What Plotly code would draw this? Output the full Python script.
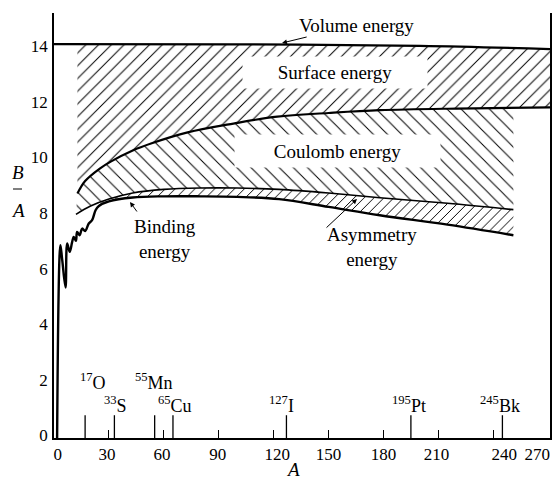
import numpy as np
import plotly.graph_objects as go

# ---------------- data ----------------
volume_A = [0, 100, 200, 271]
volume_BA = [14.08, 14.07, 14.02, 13.90]

surface_A = [12.8, 17, 25, 31, 43, 53, 73, 98, 122, 150, 178, 220, 271]
surface_BA = [8.70, 9.15, 9.60, 9.85, 10.25, 10.50, 10.90, 11.22, 11.47, 11.60, 11.70, 11.76, 11.80]

coulomb_A = [12, 20, 30, 43, 60, 80, 100, 123, 150, 178, 215, 251]
coulomb_BA = [7.95, 8.25, 8.50, 8.72, 8.85, 8.90, 8.90, 8.85, 8.72, 8.55, 8.35, 8.12]

binding_A = [1.7, 3.5, 4.5, 6.3, 7.2, 8.6, 9.9, 10.8, 12, 12.6, 14, 15.4, 17, 19, 20.8,
             22.7, 24.5, 30, 43, 60, 80, 100, 123, 150, 178, 215, 251]
binding_BA = [-0.1, 6.84, 6.3, 5.32, 6.9, 6.6, 6.95, 7.14, 7.0, 7.32, 7.2, 7.44, 7.35, 7.62, 7.74,
              8.1, 8.25, 8.42, 8.56, 8.60, 8.60, 8.58, 8.50, 8.22, 7.92, 7.58, 7.20]

nuclide_A = [17, 33, 55, 65, 127, 195, 245]
nuclide_labels = ["<sup>17</sup>O", "<sup>33</sup>S", "<sup>55</sup>Mn", "<sup>65</sup>Cu",
                  "<sup>127</sup>I", "<sup>195</sup>Pt", "<sup>245</sup>Bk"]
nuclide_label_row = [2, 1, 2, 1, 1, 1, 1]
nuclide_label_shift = [8, 1, -1, 2, -5, -2, -2]

x_minor_ticks = [30, 60, 90, 120, 150, 180, 210, 240]
x_tick_pos = [2, 29, 59, 89.5, 122, 150, 180, 209, 246, 264]
x_tick_text = ["0", "30", "60", "90", "120", "150", "180", "210", "240", "270"]
y_ticks = [0, 2, 4, 6, 8, 10, 12, 14]

Y_FLOOR = -0.1
Y_TOP = 15.2
X_MAX = 271
FONT = "Liberation Serif, Times New Roman, serif"

# page body has an 8px margin: figure coords = reference px - OFF
OFF = 8
W, H = 552, 473
L, R, T, B = 46, 10, 5, 43
PW, PH = W - L - R, H - T - B


def px_to_A(px):
    return (px - OFF - L) / PW * X_MAX


def py_to_v(py):
    return Y_TOP - (py - OFF - T) / PH * (Y_TOP - Y_FLOOR)


def px_to_paper(px):
    return (px - OFF - L) / PW


def py_to_paper(py):
    return 1 - (py - OFF - T) / PH


fig = go.Figure()


def seg(lo, hi, A, V):
    A = np.asarray(A, float); V = np.asarray(V, float)
    m = (A > lo) & (A < hi)
    xs = np.concatenate([[lo], A[m], [hi]])
    ys = np.concatenate([[np.interp(lo, A, V)], V[m], [np.interp(hi, A, V)]])
    return xs, ys


def hatch(xs, ys, shape, size, sol):
    fig.add_trace(go.Scatter(x=xs, y=ys, fill="toself", mode="none",
                             fillcolor="rgba(0,0,0,0)",
                             fillpattern=dict(shape=shape, size=size, solidity=sol,
                                              fgcolor="black", fgopacity=1),
                             hoverinfo="skip", showlegend=False))


# surface-energy hatch (between volume line and surface curve)
vx, vy = seg(surface_A[0], X_MAX, volume_A, volume_BA)
sx, sy = seg(surface_A[0], X_MAX, surface_A, surface_BA)
hatch(list(vx) + list(sx[::-1]), list(vy) + list(sy[::-1]), "/", 9, 0.11)

# coulomb-energy hatch (between surface curve and coulomb curve)
sx2, sy2 = seg(surface_A[0], coulomb_A[-1], surface_A, surface_BA)
cx, cy = seg(coulomb_A[0], coulomb_A[-1], coulomb_A, coulomb_BA)
hatch(list(sx2) + list(cx[::-1]), list(sy2) + list(cy[::-1]), "\\", 10, 0.10)

# asymmetry-energy hatch (between coulomb curve and binding curve)
cx2, cy2 = seg(24.5, coulomb_A[-1], coulomb_A, coulomb_BA)
bx2, by2 = seg(24.5, coulomb_A[-1], binding_A, binding_BA)
hatch(list(cx2) + list(bx2[::-1]), list(cy2) + list(by2[::-1]), "/", 7, 0.14)

# curves
for A, V, w in [(volume_A, volume_BA, 2.2), (surface_A, surface_BA, 2.2),
                (coulomb_A, coulomb_BA, 1.6), (binding_A, binding_BA, 2.4)]:
    fig.add_trace(go.Scatter(x=A, y=V, mode="lines", line=dict(color="black", width=w),
                             line_shape="spline", hoverinfo="skip", showlegend=False))

# nuclide marker lines
mx, my = [], []
for a in nuclide_A:
    mx += [a, a, None]
    my += [Y_FLOOR, 0.72, None]
fig.add_trace(go.Scatter(x=mx, y=my, mode="lines", line=dict(color="black", width=1.3),
                         hoverinfo="skip", showlegend=False))

ann = []
label_y = {2: py_to_v(381), 1: py_to_v(404)}
for a, t, r, sh in zip(nuclide_A, nuclide_labels, nuclide_label_row, nuclide_label_shift):
    ann.append(dict(x=a, y=label_y[r], text=t, showarrow=False, xshift=sh,
                    xanchor="center", yanchor="middle",
                    font=dict(size=18, family=FONT, color="black")))

tf = dict(size=19, family=FONT, color="black")
arrow = dict(showarrow=True, arrowhead=2, arrowsize=1, arrowwidth=1, arrowcolor="black")
ctr = dict(xanchor="center", yanchor="middle")
ann += [
    dict(x=px_to_A(282), y=py_to_v(43), text="Volume energy", ax=74, ay=-18, font=tf, **arrow),
    dict(x=px_to_A(335), y=py_to_v(72.5), text="Surface energy", showarrow=False,
         bgcolor="white", width=184, height=31, borderpad=0, font=tf, **ctr),
    dict(x=px_to_A(337), y=py_to_v(151), text="Coulomb energy", showarrow=False,
         bgcolor="white", width=205, height=32, borderpad=0, font=tf, **ctr),
    dict(x=px_to_A(165), y=py_to_v(239), text="Binding<br>energy", showarrow=False,
         font=tf, **ctr),
    dict(x=px_to_A(372), y=py_to_v(247), text="Asymmetry<br>energy", showarrow=False,
         font=tf, **ctr),
    dict(x=px_to_A(130), y=py_to_v(202), text="", ax=8, ay=11, **arrow),
    dict(x=px_to_A(357), y=py_to_v(199), text="", ax=-32, ay=30, **arrow),
    # axis titles
    dict(xref="paper", yref="paper", x=px_to_paper(293), y=py_to_paper(469),
         text="<i>A</i>", showarrow=False, font=tf, **ctr),
    dict(xref="paper", yref="paper", x=px_to_paper(18), y=py_to_paper(172),
         text="<i>B</i>", showarrow=False, font=tf, **ctr),
    dict(xref="paper", yref="paper", x=px_to_paper(18), y=py_to_paper(210),
         text="<i>A</i>", showarrow=False, font=tf, **ctr),
]

fig.update_layout(
    width=W, height=H,
    margin=dict(l=L, r=R, t=T, b=B, autoexpand=False),
    paper_bgcolor="white", plot_bgcolor="white",
    annotations=ann,
    shapes=[dict(type="line", xref="paper", yref="paper", x0=px_to_paper(13),
                 x1=px_to_paper(22), y0=py_to_paper(189), y1=py_to_paper(189),
                 line=dict(color="black", width=1))],
    xaxis=dict(range=[0, X_MAX], automargin=False, showgrid=False, zeroline=False,
               showline=True, linecolor="black", linewidth=1.6, tickmode="array",
               tickvals=x_tick_pos, ticktext=x_tick_text, ticks="", ticklabelstandoff=0,
               tickfont=dict(size=17, family=FONT, color="black"),
               minor=dict(tickmode="array", tickvals=x_minor_ticks, ticks="inside",
                          ticklen=8, tickwidth=1.2, tickcolor="black", showgrid=False)),
    yaxis=dict(range=[Y_FLOOR, Y_TOP], automargin=False, showgrid=False, zeroline=False,
               showline=True, linecolor="black", linewidth=1.8, mirror=True,
               tickmode="array", tickvals=y_ticks, ticks="", ticklabelstandoff=1,
               tickfont=dict(size=17, family=FONT, color="black")),
)

fig.write_html("out.html")
